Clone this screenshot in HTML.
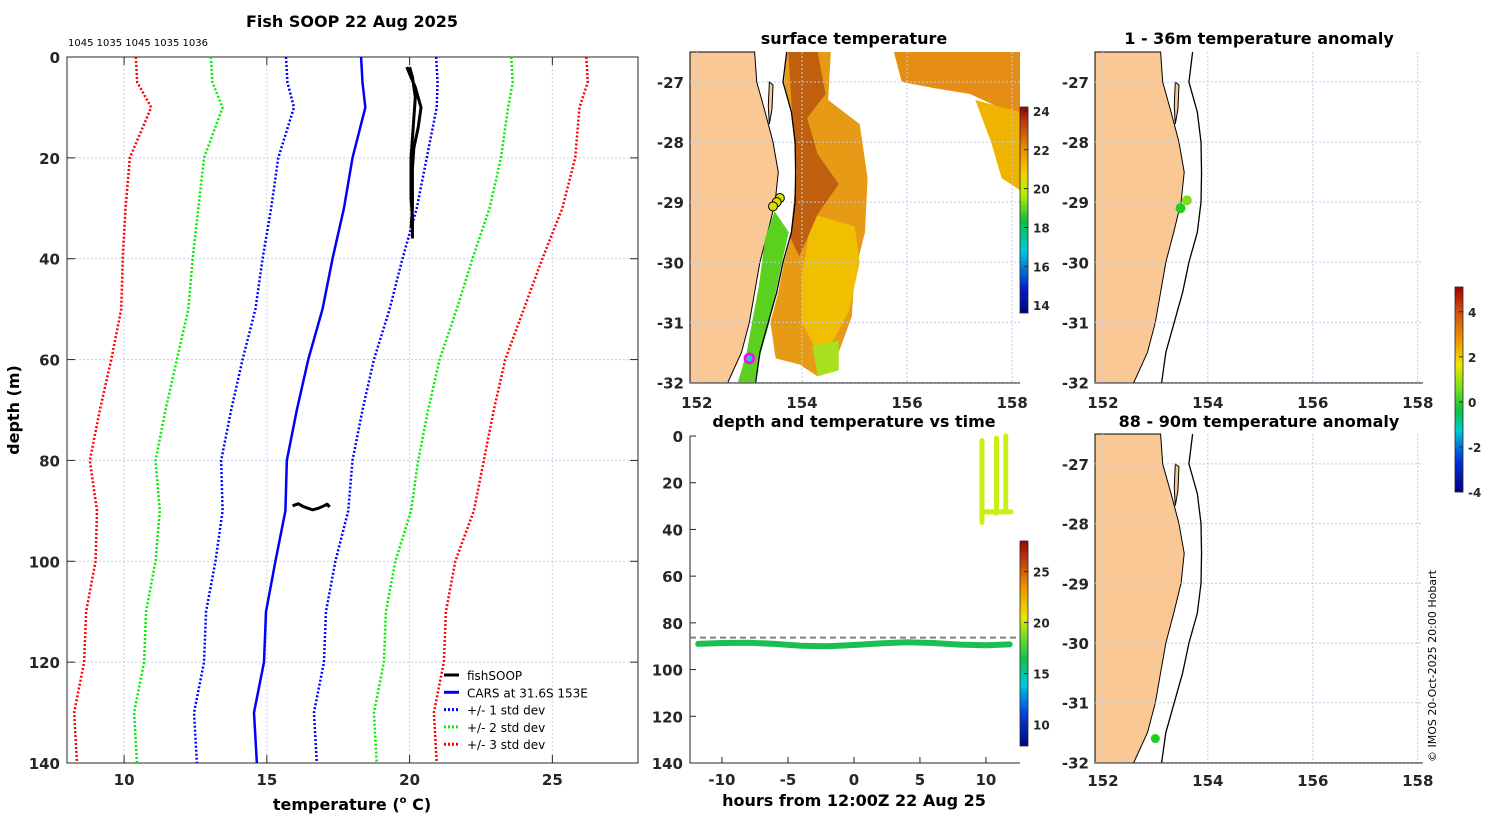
<!DOCTYPE html>
<html><head><meta charset="utf-8">
<style>
html,body{margin:0;padding:0;background:#fff;}
svg{display:block;font-family:"DejaVu Sans","Liberation Sans",sans-serif;}
.tk{font-size:15px;font-weight:bold;fill:#262626;}
.tt{font-size:16px;font-weight:bold;fill:#000;}
</style></head>
<body>
<svg id="fig" width="1500" height="820" viewBox="0 0 1500 820" xmlns="http://www.w3.org/2000/svg">
<rect width="1500" height="820" fill="#fff"/>
<text x="352" y="27" text-anchor="middle" class="tt">Fish SOOP 22 Aug 2025</text>
<text x="68" y="46" font-size="10" fill="#000">1045 1035 1045 1035 1036</text>
<text x="854" y="44" text-anchor="middle" class="tt">surface temperature</text>
<text x="1259" y="44" text-anchor="middle" class="tt">1 - 36m temperature anomaly</text>
<text x="854" y="427" text-anchor="middle" class="tt">depth and temperature vs time</text>
<text x="1259" y="427" text-anchor="middle" class="tt">88 - 90m temperature anomaly</text>
<text x="352" y="810" text-anchor="middle" class="tt">temperature (<tspan font-size="10" dy="-7">o</tspan><tspan dy="7"> C)</tspan></text>
<text transform="translate(19,410) rotate(-90)" text-anchor="middle" class="tt">depth (m)</text>
<text x="854" y="806" text-anchor="middle" class="tt">hours from 12:00Z 22 Aug 25</text>
<text transform="translate(1436,762) rotate(-90)" font-size="11" fill="#000">© IMOS 20-Oct-2025 20:00 Hobart</text>
<g id="g"></g>
</svg>
<script>
// ---------- profile chart data ----------
const carsDepths = [0,5,10,20,30,40,50,60,70,80,90,100,110,120,130,140];
const carsMean   = [18.3,18.35,18.45,18.0,17.7,17.3,16.95,16.45,16.05,15.7,15.65,15.3,14.97,14.9,14.55,14.65];
const carsSd     = [2.63,2.63,2.5,2.6,2.55,2.45,2.35,2.3,2.3,2.3,2.2,2.1,2.1,2.1,2.1,2.1];
const fishDepthA = [2,4,8,12,16,20,24,28,32,36];
const fishTempA  = [20.0,20.1,20.2,20.15,20.1,20.05,20.05,20.05,20.1,20.1];
const fishDepthB = [2,6,10,14,18,22,26,30,34];
const fishTempB  = [19.9,20.2,20.4,20.3,20.15,20.1,20.1,20.1,20.05];
const fishDepthC = [89,88.6,89.2,89.8,89.5,89.0,88.7,89.2,88.6];
const fishTempC  = [15.9,16.1,16.3,16.6,16.8,17.0,17.1,17.2,17.1];
const xTicks = [10,15,20,25];
const yTicks = [0,20,40,60,80,100,120,140];
// ---------- time chart data ----------
const hours     = [-11.8,-10,-8,-6,-4,-2,0,2,4,6,8,10,11.8];
const botDepth  = [89,88.6,88.5,89,89.8,90,89.5,88.8,88.3,88.6,89.3,89.6,89.2];
const bottomLine = 86.3;
const surfHours = [9.7,10.8,11.5];
const surfTop   = [2,1,0];
const surfBot   = [37,33,31];
const hourTicks = [-10,-5,0,5,10];
// ---------- map data ----------
const coastLat = [-26.5,-27,-27.5,-28,-28.5,-29,-29.5,-30,-30.5,-31,-31.5,-32];
const coastLon = [153.1,153.14,153.3,153.45,153.55,153.49,153.35,153.2,153.1,153.0,152.85,152.59];
const isoLon   = [153.71,153.64,153.8,153.87,153.88,153.87,153.8,153.64,153.52,153.36,153.2,153.12];
const lonTicks = [152,154,156,158];
const latTicks = [-27,-28,-29,-30,-31,-32];
const sstPtsLon = [153.58,153.52,153.45];
const sstPtsLat = [-28.93,-29.0,-29.07];
const anomTopLon = [153.6,153.48];
const anomTopLat = [-28.97,-29.1];
const anomTopVal = [1.0,0.3];
const anomBotLon = [153.0];
const anomBotLat = [-31.6];
const anomBotVal = [0.4];

const NS="http://www.w3.org/2000/svg";
const G=document.getElementById('g');
function el(t,a,p){const e=document.createElementNS(NS,t);for(const k in a)e.setAttribute(k,a[k]);(p||G).appendChild(e);return e;}
function txt(x,y,s,anchor,cls,p){const e=el('text',{x:x,y:y,'text-anchor':anchor,class:cls},p);e.textContent=s;return e;}

// ===== profile chart =====
const P={x0:67,x1:638,y0:57,y1:763,tmin:8,tmax:28,dmax:140};
const px=t=>P.x0+(t-P.tmin)/(P.tmax-P.tmin)*(P.x1-P.x0);
const py=d=>P.y0+d/P.dmax*(P.y1-P.y0);
xTicks.forEach(t=>{const l=el('line',{x1:px(t),x2:px(t),y1:P.y0,y2:P.y1,stroke:'#c8d0e8','stroke-dasharray':'2,2','stroke-width':1});

el('line',{x1:px(t),x2:px(t),y1:P.y1,y2:P.y1-8,stroke:'#262626'});el('line',{x1:px(t),x2:px(t),y1:P.y0,y2:P.y0+8,stroke:'#262626'});
const tl=txt(px(t),P.y1+22,t,'middle','tk');});
yTicks.forEach(d=>{const l=el('line',{x1:P.x0,x2:P.x1,y1:py(d),y2:py(d),stroke:'#c8d0e8','stroke-dasharray':'2,2'});

el('line',{x1:P.x0,x2:P.x0+8,y1:py(d),y2:py(d),stroke:'#262626'});el('line',{x1:P.x1,x2:P.x1-8,y1:py(d),y2:py(d),stroke:'#262626'});
const tl=txt(P.x0-7,py(d)+6,d,'end','tk');});
const frame=el('rect',{x:P.x0,y:P.y0,width:P.x1-P.x0,height:P.y1-P.y0,fill:'none',stroke:'#262626'});

function poly(ts,ds,attrs,name){const pts=ts.map((t,i)=>px(t)+','+py(ds[i])).join(' ');const e=el('polyline',Object.assign({points:pts,fill:'none'},attrs));
return e;}
const sdCol={1:'#0000ff',2:'#00ee00',3:'#ff0000'};
[1,2,3].forEach(k=>{[-1,1].forEach(s=>{poly(carsMean.map((m,i)=>m+s*k*carsSd[i]),carsDepths,{stroke:sdCol[k],'stroke-width':2.5,'stroke-dasharray':'2,2'},(s<0?'minus-':'plus-')+k+'-std-line');});});
poly(carsMean,carsDepths,{stroke:'#0000ff','stroke-width':2.5},'cars-mean-line');
poly(fishTempA,fishDepthA,{stroke:'#000','stroke-width':3},'fishsoop-profile-1');
poly(fishTempB,fishDepthB,{stroke:'#000','stroke-width':3},'fishsoop-profile-2');
poly(fishTempC,fishDepthC,{stroke:'#000','stroke-width':3},'fishsoop-profile-deep');
// legend
const leg=[['fishSOOP','#000',''],['CARS at 31.6S 153E','#0000ff',''],['+/- 1 std dev','#0000ff','2,2'],['+/- 2 std dev','#00ee00','2,2'],['+/- 3 std dev','#ff0000','2,2']];
leg.forEach((L,i)=>{const y=675+i*17.3;const g=el('g',{});
el('line',{x1:444,x2:459,y1:y,y2:y,stroke:L[1],'stroke-width':3,'stroke-dasharray':L[2]},g);
const t=el('text',{x:467,y:y+5,'font-size':12,fill:'#000','font-family':'"DejaVu Sans",sans-serif'},g);t.textContent=L[0];});

// ===== maps =====
function mapAxes(o){ // o: x0,x1,y0,y1,lonMin,lonMax,latTop,latBot
 o.mx=lon=>o.x0+(lon-o.lonMin)/(o.lonMax-o.lonMin)*(o.x1-o.x0);
 o.my=lat=>o.y0+(o.latTop-lat)/(o.latTop-o.latBot)*(o.y1-o.y0);
 return o;}
function drawMapBase(o,name){
 const land=[[o.lonMin,o.latTop]].concat(coastLat.map((la,i)=>[coastLon[i],la])).concat([[coastLon[coastLon.length-1],o.latBot],[o.lonMin,o.latBot]]);
 const lp=el('polygon',{points:land.map(p=>o.mx(p[0])+','+o.my(p[1])).join(' '),fill:'#fac895',stroke:'#000','stroke-width':1});
 
 const isl=el('polygon',{points:[[153.38,-27.0],[153.45,-27.05],[153.43,-27.45],[153.38,-27.7],[153.36,-27.4]].map(p=>o.mx(p[0])+','+o.my(p[1])).join(' '),fill:'#fac895',stroke:'#000','stroke-width':1});
 
}
function drawMapOverlay(o,name,xlabY){
 lonTicks.forEach(l=>{if(l>o.lonMin){const g=el('line',{x1:o.mx(l),x2:o.mx(l),y1:o.y0,y2:o.y1,stroke:'#c0c8e8','stroke-dasharray':'2,2'});}
  const t=txt(o.mx(l),xlabY,l,'middle','tk');});
 latTicks.forEach(l=>{if(l>o.latBot){const g=el('line',{x1:o.x0,x2:o.x1,y1:o.my(l),y2:o.my(l),stroke:'#c0c8e8','stroke-dasharray':'2,2'});}
  const t=txt(o.x0-6,o.my(l)+6,l,'end','tk');});
 const iso=el('polyline',{points:coastLat.map((la,i)=>o.mx(isoLon[i])+','+o.my(la)).join(' '),fill:'none',stroke:'#000','stroke-width':1.3});
 
 el('line',{x1:o.x0,x2:o.x1,y1:o.y1,y2:o.y1,stroke:'#262626'});
}
// --- SST map ---
const M1=mapAxes({x0:690,x1:1020,y0:52,y1:383,lonMin:151.87,lonMax:158.15,latTop:-26.5,latBot:-32.01});
drawMapBase(M1,'sst-map');
function region(o,pts,fill,name){const e=el('polygon',{points:pts.map(p=>o.mx(p[0])+','+o.my(p[1])).join(' '),fill:fill});}
region(M1,[[153.72,-26.5],[154.55,-26.5],[154.5,-27.3],[155.1,-27.7],[155.25,-28.6],[155.2,-29.5],[155.0,-30.2],[154.95,-30.9],[154.7,-31.5],[154.3,-31.9],[153.95,-31.7],[153.5,-31.6],[153.4,-31.0],[153.55,-30.5],[153.66,-30.0],[153.82,-29.5],[153.9,-28.5],[153.82,-27.6],[153.66,-27.0]],'#e79a16','sst-warm-region');
region(M1,[[154.2,-29.2],[155.0,-29.4],[155.1,-30.0],[154.9,-30.8],[154.6,-31.3],[154.3,-31.5],[154.0,-31.0],[154.0,-30.2]],'#f0c000','sst-mid-region');
region(M1,[[153.74,-26.5],[154.3,-26.5],[154.45,-27.2],[154.1,-27.6],[154.3,-28.2],[154.7,-28.7],[154.3,-29.2],[153.95,-29.9],[153.78,-29.6],[153.9,-28.5],[153.82,-27.6]],'#c0600e','sst-hot-core');
region(M1,[[153.48,-29.15],[153.75,-29.5],[153.62,-30.0],[153.5,-30.5],[153.38,-31.0],[153.22,-31.5],[153.1,-32.0],[152.78,-32.0],[152.95,-31.5],[153.05,-31.0],[153.18,-30.4],[153.3,-29.6]],'#5cd01e','sst-coastal-green');
region(M1,[[155.75,-26.5],[158.15,-26.5],[158.15,-27.6],[157.7,-27.4],[157.2,-27.2],[156.5,-27.1],[155.9,-27.0]],'#e68e14','sst-ne-patch');
region(M1,[[157.3,-27.3],[158.15,-27.5],[158.15,-28.8],[157.8,-28.6],[157.6,-28.0]],'#f0b400','sst-ne-yellow');
region(M1,[[154.2,-31.4],[154.7,-31.3],[154.7,-31.8],[154.3,-31.9]],'#a8e020','sst-south-green');
drawMapOverlay(M1,'sst-map',408);
sstPtsLon.forEach((l,i)=>{const c=el('circle',{cx:M1.mx(l),cy:M1.my(sstPtsLat[i]),r:4.5,fill:'#d8e000',stroke:'#000','stroke-width':1});});
const mk=el('circle',{cx:M1.mx(153.0),cy:M1.my(-31.6),r:4.5,fill:'#20c8c8',stroke:'#ff00ff','stroke-width':2.5});
// colorbars
function cbar(x,y0,y1,stops,ticks,vmin,vmax,name){
 const id='gr'+name;const d=el('defs',{});const lg=el('linearGradient',{id:id,x1:0,y1:1,x2:0,y2:0},d);
 stops.forEach(s=>el('stop',{offset:s[0],'stop-color':s[1]},lg));
 const r=el('rect',{x:x,y:y0,width:8,height:y1-y0,fill:'url(#'+id+')',stroke:'#262626','stroke-width':0.8});
 ticks.forEach(t=>{const yy=y1-(t-vmin)/(vmax-vmin)*(y1-y0);el('line',{x1:x+8,x2:x+4,y1:yy,y2:yy,stroke:'#262626'});
  const tl=el('text',{x:x+13,y:yy+5,'font-size':12,'font-weight':'bold',fill:'#262626'});tl.textContent=t;});}
const jet=[[0,'#00007f'],[0.12,'#0020d0'],[0.3,'#00c8e0'],[0.45,'#10c040'],[0.58,'#b8f000'],[0.68,'#f0d000'],[0.8,'#e88a00'],[0.92,'#c04010'],[1,'#a00000']];
cbar(1020,107,313,jet,[14,16,18,20,22,24],13.6,24.2,'sst-colorbar');
cbar(1020,541,746,[[0,'#00007f'],[0.15,'#0040e0'],[0.3,'#00c8e0'],[0.42,'#10c050'],[0.55,'#80e020'],[0.62,'#e8e800'],[0.78,'#f09000'],[0.9,'#c04010'],[1,'#a00000']],[10,15,20,25],7.9,28,'time-colorbar');
cbar(1455,287,492,[[0,'#00007f'],[0.15,'#0030e0'],[0.3,'#00c8d0'],[0.4,'#10c040'],[0.5,'#70e020'],[0.62,'#e8e800'],[0.72,'#f0a000'],[0.88,'#d05010'],[1,'#a00000']],[-4,-2,0,2,4],-4,5.1,'anomaly-colorbar');
// anomaly maps
function anomColor(v){if(v<0.1)return '#10c020';if(v<0.6)return '#20d020';if(v<1.5)return '#7ee01a';return '#e8e800';}
const M2=mapAxes({x0:1095,x1:1423,y0:52,y1:383,lonMin:151.85,lonMax:158.1,latTop:-26.5,latBot:-32.01});
drawMapBase(M2,'anom-top-map');drawMapOverlay(M2,'anom-top-map',408);
anomTopLon.forEach((l,i)=>{const c=el('circle',{cx:M2.mx(l),cy:M2.my(anomTopLat[i]),r:5,fill:anomColor(anomTopVal[i])});});
const M3=mapAxes({x0:1095,x1:1423,y0:434,y1:763,lonMin:151.85,lonMax:158.1,latTop:-26.5,latBot:-32.01});
drawMapBase(M3,'anom-bottom-map');drawMapOverlay(M3,'anom-bottom-map',786);
anomBotLon.forEach((l,i)=>{const c=el('circle',{cx:M3.mx(l),cy:M3.my(anomBotLat[i]),r:4.5,fill:anomColor(anomBotVal[i])});});

// ===== time chart =====
const T={x0:690,x1:1020,y0:436,y1:763,hmin:-12.42,hmax:12.58,dmax:140};
const tx=h=>T.x0+(h-T.hmin)/(T.hmax-T.hmin)*(T.x1-T.x0);
const ty=d=>T.y0+d/T.dmax*(T.y1-T.y0);
el('polyline',{points:T.x0+','+T.y0+' '+T.x0+','+T.y1+' '+T.x1+','+T.y1,fill:'none',stroke:'#262626'});
hourTicks.forEach(h=>{el('line',{x1:tx(h),x2:tx(h),y1:T.y1,y2:T.y1-6,stroke:'#262626'});const t=txt(tx(h),T.y1+22,h,'middle','tk');});
yTicks.forEach(d=>{el('line',{x1:T.x0,x2:T.x0+6,y1:ty(d),y2:ty(d),stroke:'#262626'});const t=txt(T.x0-7,ty(d)+6,d,'end','tk');});
const bl=el('line',{x1:T.x0,x2:T.x1,y1:ty(bottomLine),y2:ty(bottomLine),stroke:'#808080','stroke-width':2,'stroke-dasharray':'6,4'});

const gl=el('polyline',{points:hours.map((h,i)=>tx(h)+','+ty(botDepth[i])).join(' '),fill:'none',stroke:'#18c050','stroke-width':6,'stroke-linecap':'round','stroke-linejoin':'round'});

surfHours.forEach((h,i)=>{const s=el('line',{x1:tx(h),x2:tx(h),y1:ty(surfTop[i]),y2:ty(surfBot[i]),stroke:'#c8f014','stroke-width':5,'stroke-linecap':'round'});});
const sb=el('line',{x1:tx(surfHours[0]),x2:tx(11.9),y1:ty(32.5),y2:ty(32.5),stroke:'#c8f014','stroke-width':5,'stroke-linecap':'round'});

</script>
</body></html>
